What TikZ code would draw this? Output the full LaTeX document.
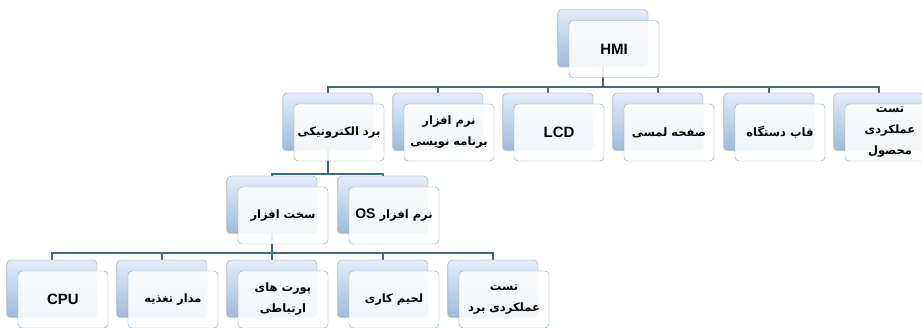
\documentclass[tikz,border=0pt]{standalone}
\usepackage{fontspec}
\setmainfont{Liberation Sans}
\newfontfamily\farsi[Script=Arabic]{DejaVu Sans}
\TeXXeTstate=1
\usepackage{xcolor}
\usetikzlibrary{shadows,backgrounds}

\definecolor{backtop}{HTML}{E3ECF6}
\definecolor{backbot}{HTML}{9EBCDC}
\definecolor{backline}{HTML}{9AA5B0}
\definecolor{faceline}{HTML}{7EA5C0}
\definecolor{linkblue}{HTML}{3D6A86}

\newcommand{\fa}[1]{{\farsi\bfseries\beginR #1\endR}}
\newcommand{\en}[1]{{\fontsize{15}{17}\selectfont\bfseries #1}}

\tikzset{
	backbox/.style={draw=backline, rounded corners=4pt, top color=backtop, bottom color=backbot,
		minimum width=90pt, minimum height=57pt, drop shadow={shadow xshift=-1pt, shadow yshift=-1.2pt, opacity=0.35}},
	facebox/.style={draw=faceline, rounded corners=4pt, fill=white, fill opacity=0.88, text opacity=1,
		minimum width=90pt, minimum height=57pt, inner sep=0pt, align=center,
		font=\fontsize{11.5}{21}\selectfont},
	link/.style={draw=linkblue, line width=1.6pt},
}

\begin{document}
\begin{tikzpicture}[x=1pt, y=1pt]
	\useasboundingbox (0,0) rectangle (922,327);
	% top
	\node[backbox] (hmiB) at (603,289) {};
	\node[facebox] (hmiF) at (614,278) {\en{HMI}};
	% first row
	\node[backbox] (pcbB) at (328,205.5) {};
	\node[facebox] (pcbF) at (339,194.5) {\fa{برد الکترونیکی}};
	\node[backbox] (progB) at (438,205.5) {};
	\node[facebox] (progF) at (449,194.5) {\fa{نرم افزار}\\\fa{برنامه نویسی}};
	\node[backbox] (lcdB) at (548,205.5) {};
	\node[facebox] (lcdF) at (559,194.5) {\en{LCD}};
	\node[backbox] (touchB) at (658,205.5) {};
	\node[facebox] (touchF) at (669,194.5) {\fa{صفحه لمسی}};
	\node[backbox] (frameB) at (769,205.5) {};
	\node[facebox] (frameF) at (780,194.5) {\fa{قاب دستگاه}};
	\node[backbox] (testB) at (879,205.5) {};
	\node[facebox] (testF) at (890,194.5) {\fa{تست}\\\fa{عملکردی}\\\fa{محصول}};
	% second row
	\node[backbox] (hwB) at (272,122.5) {};
	\node[facebox] (hwF) at (283,111.5) {\fa{سخت افزار}};
	\node[backbox] (osB) at (383,122.5) {};
	\node[facebox] (osF) at (394,111.5) {\fa{نرم افزار \beginL{\normalfont\bfseries\fontsize{14}{16}\selectfont OS}\endL}};
	% third row
	\node[backbox] (cpuB) at (52,38.5) {};
	\node[facebox] (cpuF) at (63,27.5) {\en{CPU}};
	\node[backbox] (powerB) at (162,38.5) {};
	\node[facebox] (powerF) at (173,27.5) {\fa{مدار تغذیه}};
	\node[backbox] (portB) at (272,38.5) {};
	\node[facebox] (portF) at (283,27.5) {\fa{پورت های}\\\fa{ارتباطی}};
	\node[backbox] (solderB) at (383,38.5) {};
	\node[facebox] (solderF) at (394,27.5) {\fa{لحیم کاری}};
	\node[backbox] (boardtestB) at (493,38.5) {};
	\node[facebox] (boardtestF) at (504,27.5) {\fa{تست}\\\fa{عملکردی برد}};
	% connectors
	\begin{pgfonlayer}{background}
		\draw[link] (hmiB.south) -- ++(0,-20.5) -| (pcbB.north);
		\draw[link] (hmiB.south) -- ++(0,-20.5) -| (progB.north);
		\draw[link] (hmiB.south) -- ++(0,-20.5) -| (lcdB.north);
		\draw[link] (hmiB.south) -- ++(0,-20.5) -| (touchB.north);
		\draw[link] (hmiB.south) -- ++(0,-20.5) -| (frameB.north);
		\draw[link] (hmiB.south) -- ++(0,-20.5) -| (testB.north);
		\draw[link] (pcbB.south) -- ++(0,-24) -| (hwB.north);
		\draw[link] (pcbB.south) -- ++(0,-24) -| (osB.north);
		\draw[link] (hwB.south) -- ++(0,-20) -| (cpuB.north);
		\draw[link] (hwB.south) -- ++(0,-20) -| (powerB.north);
		\draw[link] (hwB.south) -- ++(0,-20) -| (portB.north);
		\draw[link] (hwB.south) -- ++(0,-20) -| (solderB.north);
		\draw[link] (hwB.south) -- ++(0,-20) -| (boardtestB.north);
	\end{pgfonlayer}
\end{tikzpicture}
\end{document}
